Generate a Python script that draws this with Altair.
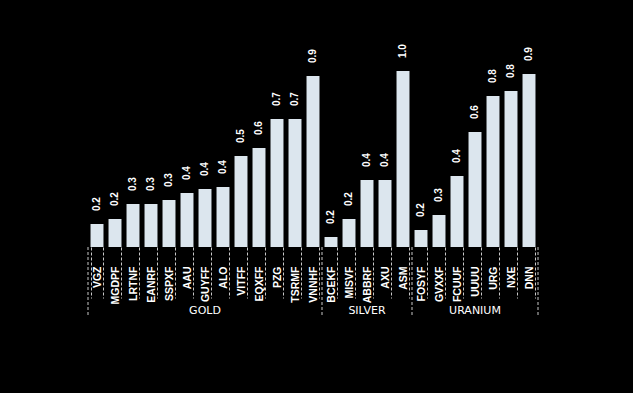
import altair as alt
import pandas as pd

tickers = ["VGZ", "MGDPF", "LRTNF", "EANRF", "SSPXF", "AAU", "GUYFF", "ALO", "VITFF",
           "EQXFF", "PZG", "TSRMF", "VNNHF",
           "BCEKF", "MISVF", "ABBRF", "AXU", "ASM",
           "FOSYF", "GVXXF", "FCUUF", "UUUU", "URG", "NXE", "DNN"]
sectors = ["GOLD"] * 13 + ["SILVER"] * 5 + ["URANIUM"] * 7
values = [0.235, 0.26, 0.335, 0.335, 0.355, 0.39, 0.41, 0.42, 0.575,
          0.615, 0.76, 0.76, 0.975,
          0.17, 0.26, 0.455, 0.455, 1.0,
          0.205, 0.28, 0.475, 0.695, 0.875, 0.90, 0.985]
labels = ["0.2", "0.2", "0.3", "0.3", "0.3", "0.4", "0.4", "0.4", "0.5",
          "0.6", "0.7", "0.7", "0.9",
          "0.2", "0.2", "0.4", "0.4", "1.0",
          "0.2", "0.3", "0.4", "0.6", "0.8", "0.8", "0.9"]
y_base = 0.12
y_top = 1.0

df = pd.DataFrame({"ticker": tickers, "sector": sectors, "value": values, "label": labels})

# group helpers built from the arrays
group_names = []
for s in sectors:
    if s not in group_names:
        group_names.append(s)
centers, firsts = [], []
for g in group_names:
    members = [t for t, s in zip(tickers, sectors) if s == g]
    centers.append(members[len(members) // 2])
    firsts.append(members[0])
grp_df = pd.DataFrame({"ticker": centers, "sector": group_names})
edge_df = pd.DataFrame({"ticker": firsts})
end_df = pd.DataFrame({"ticker": [tickers[-1]]})

W, H = 450, 176
PAD_IN = 0.28
step = W / len(tickers)
half_gap = PAD_IN * step / 2

xscale = alt.Scale(domain=tickers, paddingInner=PAD_IN, paddingOuter=PAD_IN / 2)
yscale = alt.Scale(domain=[y_base, y_top], zero=False, nice=False)

tick_font = "Liberation Sans, Arial, sans-serif"
x_axis = alt.Axis(
    title=None, domain=False, grid=False,
    ticks=True, tickBand="extent", tickSize=51, tickColor="#c8c8c8",
    tickDash=[3, 2], tickWidth=1,
    labelAngle=270, labelAlign="right", labelBaseline="middle",
    labelPadding=-32, labelColor="white", labelFont=tick_font,
    labelFontSize=10.5, labelFontWeight="bold",
)

base = alt.Chart(df)

bars = base.mark_bar(color="#dce6ee").encode(
    x=alt.X("ticker:N", sort=tickers, scale=xscale, axis=x_axis),
    y=alt.Y("value:Q", scale=yscale, axis=None),
    y2=alt.datum(y_base),
)

vals = base.mark_text(
    angle=270, align="left", baseline="middle", dx=13,
    color="white", font="Liberation Sans, Arial, sans-serif", fontSize=10,
    fontWeight="bold",
).encode(
    x=alt.X("ticker:N", sort=tickers, scale=xscale),
    y=alt.Y("value:Q", scale=yscale),
    text="label:N",
)

edges = alt.Chart(edge_df).mark_rule(
    color="#c8c8c8", strokeDash=[3, 2], strokeWidth=1, xOffset=-half_gap
).encode(
    x=alt.X("ticker:N", sort=tickers, scale=xscale, bandPosition=0),
    y=alt.value(H), y2=alt.value(H + 70),
)

end_edge = alt.Chart(end_df).mark_rule(
    color="#c8c8c8", strokeDash=[3, 2], strokeWidth=1, xOffset=half_gap
).encode(
    x=alt.X("ticker:N", sort=tickers, scale=xscale, bandPosition=1),
    y=alt.value(H), y2=alt.value(H + 70),
)

grp_text = alt.Chart(grp_df).mark_text(
    color="white", font="DejaVu Sans, sans-serif", fontSize=11,
    baseline="middle", align="center",
).encode(
    x=alt.X("ticker:N", sort=tickers, scale=xscale),
    y=alt.value(H + 64),
    text="sector:N",
)

chart = alt.layer(bars, vals, edges, end_edge, grp_text).properties(
    width=W, height=H,
    padding={"left": 88, "top": 71, "right": 95, "bottom": 146},
    autosize=alt.AutoSizeParams(type="none"),
).configure(background="black").configure_view(stroke=None)

chart.save("out.html", embed_options={"renderer": "svg", "actions": False})
